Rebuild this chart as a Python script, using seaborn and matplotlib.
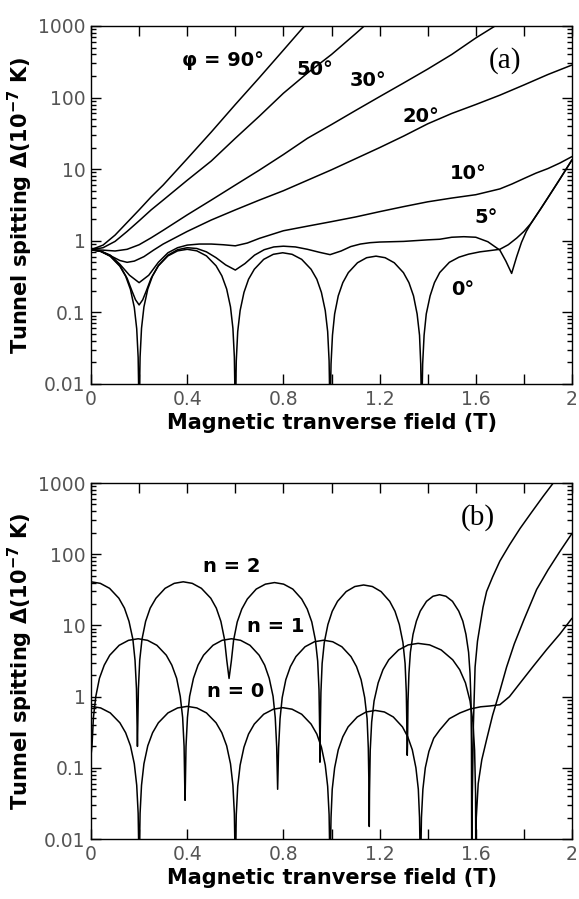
import numpy as np
import pandas as pd
import matplotlib
matplotlib.use("Agg")
import matplotlib.pyplot as plt
import seaborn as sns
from matplotlib.ticker import LogLocator, NullFormatter, FixedLocator, FixedFormatter

# ---- panel (a): tunnel splitting vs transverse field for several angles phi ----
a0_x = [0, 0.04, 0.08, 0.12, 0.144, 0.164, 0.18, 0.19, 0.196, 0.199, 0.2,
        0.201, 0.204, 0.21, 0.22, 0.236, 0.256, 0.28, 0.32, 0.36, 0.4,
        0.44, 0.48, 0.52, 0.544, 0.564, 0.58, 0.59, 0.596, 0.599, 0.6,
        0.601, 0.604, 0.61, 0.62, 0.636, 0.655, 0.679, 0.718, 0.758, 0.797,
        0.836, 0.876, 0.915, 0.939, 0.958, 0.974, 0.984, 0.99, 0.993, 0.994,
        0.995, 0.998, 1.004, 1.013, 1.028, 1.047, 1.07, 1.108, 1.146, 1.185,
        1.223, 1.261, 1.299, 1.322, 1.341, 1.356, 1.366, 1.371, 1.374, 1.375,
        1.376, 1.379, 1.385, 1.394, 1.41, 1.428, 1.45, 1.49, 1.53, 1.57, 1.617, 1.66, 1.7,
        1.735, 1.77, 1.8, 1.83, 1.87, 1.9, 1.95, 2.0]
a0_y = [0.75, 0.713, 0.607, 0.441, 0.32, 0.209, 0.117, 0.059, 0.0235, 0.0059, 0.001,
        0.006, 0.0238, 0.06, 0.119, 0.212, 0.324, 0.447, 0.615, 0.723, 0.76,
        0.723, 0.615, 0.447, 0.324, 0.212, 0.119, 0.06, 0.0238, 0.006, 0.001,
        0.0053, 0.021, 0.054, 0.106, 0.19, 0.29, 0.40, 0.55, 0.647, 0.68,
        0.647, 0.55, 0.40, 0.29, 0.19, 0.106, 0.054, 0.021, 0.0053, 0.001,
        0.0048, 0.019, 0.048, 0.095, 0.17, 0.26, 0.359, 0.493, 0.58, 0.61,
        0.58, 0.493, 0.359, 0.26, 0.17, 0.095, 0.048, 0.019, 0.0048, 0.001,
        0.005, 0.019, 0.048, 0.095, 0.17, 0.26, 0.36, 0.5, 0.59, 0.65, 0.70, 0.73, 0.76,
        0.88, 1.09, 1.35, 1.76, 2.8, 4.0, 7.3, 13.5]

a5_x = [0, 0.04, 0.08, 0.12, 0.15, 0.17, 0.185, 0.2, 0.215, 0.23, 0.25, 0.28, 0.32,
        0.36, 0.4, 0.44, 0.48, 0.52, 0.56, 0.6, 0.64, 0.68, 0.72, 0.76, 0.8, 0.85,
        0.9, 0.95, 0.994, 1.04, 1.08, 1.12, 1.16, 1.2, 1.3, 1.4, 1.45, 1.5, 1.55,
        1.6, 1.65, 1.7, 1.725, 1.749, 1.77, 1.79, 1.81, 1.83, 1.87, 1.9, 1.95, 2.0]
a5_y = [0.75, 0.715, 0.615, 0.45, 0.3, 0.2, 0.15, 0.127, 0.15, 0.2, 0.3, 0.45, 0.63,
        0.75, 0.8, 0.78, 0.7, 0.58, 0.46, 0.39, 0.48, 0.63, 0.75, 0.82, 0.84, 0.82,
        0.76, 0.69, 0.64, 0.72, 0.83, 0.9, 0.94, 0.96, 0.98, 1.03, 1.05, 1.12, 1.14,
        1.12, 0.97, 0.74, 0.52, 0.35, 0.6, 0.95, 1.35, 1.76, 2.8, 4.0, 7.3, 13.5]

a10_x = [0, 0.04, 0.08, 0.12, 0.16, 0.2, 0.24, 0.28, 0.32, 0.36, 0.4, 0.45, 0.5, 0.55,
         0.6, 0.65, 0.7, 0.8, 0.9, 1.0, 1.1, 1.2, 1.3, 1.4, 1.5, 1.6, 1.7, 1.75, 1.8,
         1.85, 1.9, 1.95, 2.0]
a10_y = [0.75, 0.72, 0.63, 0.47, 0.33, 0.26, 0.33, 0.5, 0.68, 0.8, 0.87, 0.9, 0.9, 0.88,
         0.85, 0.93, 1.08, 1.38, 1.6, 1.85, 2.15, 2.55, 3.0, 3.5, 3.95, 4.4, 5.3, 6.2, 7.4,
         8.8, 10.2, 12.2, 15]

a20_x = [0, 0.04, 0.08, 0.12, 0.15, 0.18, 0.22, 0.26, 0.3, 0.4, 0.5, 0.6, 0.7, 0.8, 0.9,
         1.0, 1.1, 1.2, 1.3, 1.4, 1.5, 1.6, 1.7, 1.8, 1.9, 2.0]
a20_y = [0.75, 0.71, 0.62, 0.53, 0.5, 0.52, 0.6, 0.74, 0.9, 1.35, 1.95, 2.7, 3.7, 5.0, 7.0,
         9.8, 14, 20, 29, 43, 60, 80, 108, 150, 210, 285]

a30_x = [0, 0.05, 0.1, 0.15, 0.2, 0.25, 0.3, 0.4, 0.5, 0.6, 0.7, 0.8, 0.9, 1.0, 1.1, 1.2,
         1.3, 1.4, 1.5, 1.6, 1.7]
a30_y = [0.75, 0.74, 0.72, 0.76, 0.88, 1.1, 1.4, 2.3, 3.7, 6.0, 9.7, 16, 27, 42, 66, 103,
         160, 250, 400, 680, 1100]

a50_x = [0, 0.05, 0.1, 0.15, 0.2, 0.25, 0.3, 0.4, 0.5, 0.6, 0.7, 0.8, 0.9, 1.0, 1.1, 1.15]
a50_y = [0.75, 0.8, 0.98, 1.35, 1.9, 2.7, 3.7, 7.0, 13, 27, 55, 115, 220, 400, 780, 1100]

a90_x = [0, 0.05, 0.1, 0.15, 0.2, 0.25, 0.3, 0.4, 0.5, 0.6, 0.7, 0.8, 0.9]
a90_y = [0.75, 0.87, 1.2, 1.8, 2.7, 4.1, 6.0, 14, 33, 80, 190, 460, 1120]

# ---- panel (b): n = 0, 1, 2 ----
b0_x = [0, 0.04, 0.08, 0.12, 0.144, 0.164, 0.18, 0.19, 0.196, 0.199, 0.2,
        0.201, 0.204, 0.21, 0.22, 0.236, 0.256, 0.28, 0.32, 0.36, 0.4,
        0.44, 0.48, 0.52, 0.544, 0.564, 0.58, 0.59, 0.596, 0.599, 0.6,
        0.601, 0.604, 0.61, 0.62, 0.636, 0.655, 0.679, 0.718, 0.758, 0.797,
        0.836, 0.876, 0.915, 0.939, 0.958, 0.974, 0.984, 0.99, 0.993, 0.994,
        0.995, 0.998, 1.003, 1.013, 1.028, 1.047, 1.069, 1.107, 1.144, 1.182,
        1.22, 1.257, 1.295, 1.317, 1.336, 1.351, 1.361, 1.366, 1.369, 1.37,
        1.371, 1.374, 1.38, 1.39, 1.405, 1.425, 1.45, 1.49, 1.534, 1.576, 1.62, 1.66, 1.7,
        1.74, 1.784, 1.84, 1.895, 1.95, 2.0]
b0_y = [0.73, 0.694, 0.591, 0.429, 0.311, 0.204, 0.114, 0.057, 0.023, 0.0058, 0.001,
        0.0058, 0.023, 0.057, 0.114, 0.204, 0.311, 0.429, 0.591, 0.694, 0.73,
        0.694, 0.591, 0.429, 0.311, 0.204, 0.114, 0.057, 0.023, 0.0058, 0.001,
        0.0055, 0.022, 0.055, 0.109, 0.195, 0.298, 0.412, 0.566, 0.666, 0.70,
        0.666, 0.566, 0.412, 0.298, 0.195, 0.109, 0.055, 0.022, 0.0055, 0.001,
        0.005, 0.02, 0.05, 0.1, 0.179, 0.273, 0.376, 0.518, 0.609, 0.64,
        0.609, 0.518, 0.376, 0.273, 0.179, 0.1, 0.05, 0.02, 0.005, 0.001,
        0.005, 0.02, 0.05, 0.1, 0.17, 0.26, 0.34, 0.49, 0.59, 0.67, 0.72, 0.74, 0.77,
        1.0, 1.55, 2.7, 4.6, 7.6, 12.6]

b1_x = [0, 0.004, 0.01, 0.02, 0.035, 0.055, 0.078, 0.117, 0.156, 0.196,
        0.235, 0.274, 0.313, 0.336, 0.356, 0.371, 0.381, 0.387, 0.39, 0.391,
        0.392, 0.395, 0.401, 0.41, 0.426, 0.445, 0.468, 0.507, 0.545, 0.584,
        0.622, 0.661, 0.699, 0.722, 0.741, 0.757, 0.766, 0.772, 0.776,
        0.78, 0.786, 0.795, 0.81, 0.829, 0.852, 0.89, 0.929, 0.967,
        1.005, 1.043, 1.081, 1.104, 1.123, 1.138, 1.148, 1.153, 1.156, 1.157,
        1.158, 1.161, 1.167, 1.177, 1.194, 1.214, 1.238, 1.279, 1.319, 1.36,
        1.408, 1.456, 1.504, 1.533, 1.557, 1.576, 1.588, 1.595, 1.599, 1.6,
        1.602, 1.61, 1.625, 1.645, 1.67, 1.7, 1.728, 1.76, 1.8, 1.853, 1.9, 1.95, 2.0]
b1_y = [0.15, 0.2, 0.51, 1.01, 1.81, 2.77, 3.82, 5.26, 6.18, 6.5,
        6.18, 5.26, 3.82, 2.77, 1.81, 1.01, 0.51, 0.2, 0.051, 0.035,
        0.051, 0.2, 0.51, 1.01, 1.81, 2.77, 3.82, 5.26, 6.18, 6.5,
        6.18, 5.26, 3.82, 2.77, 1.81, 1.01, 0.51, 0.2, 0.05,
        0.19, 0.49, 0.97, 1.73, 2.64, 3.65, 5.02, 5.9, 6.2,
        5.9, 5.02, 3.65, 2.64, 1.73, 0.97, 0.49, 0.19, 0.049, 0.015,
        0.044, 0.176, 0.44, 0.87, 1.56, 2.39, 3.29, 4.53, 5.33, 5.6,
        5.33, 4.53, 3.29, 2.39, 1.56, 0.87, 0.44, 0.176, 0.044, 0.005,
        0.02, 0.06, 0.13, 0.25, 0.55, 1.2, 2.6, 5.5, 12, 32, 60, 110, 196]

b2_x = [0, 0.0386, 0.0772, 0.1158, 0.139, 0.158, 0.174, 0.183, 0.189, 0.193,
        0.194, 0.197, 0.2025, 0.212, 0.227, 0.246, 0.27, 0.308, 0.346, 0.3835,
        0.421, 0.459, 0.498, 0.521, 0.54, 0.555, 0.5645, 0.574,
        0.5835, 0.593, 0.608, 0.627, 0.65, 0.687, 0.725, 0.763,
        0.801, 0.839, 0.876, 0.899, 0.918, 0.933, 0.9425, 0.948, 0.951, 0.952,
        0.953, 0.956, 0.961, 0.97, 0.985, 1.003, 1.025, 1.061, 1.097, 1.1335,
        1.17, 1.206, 1.242, 1.264, 1.282, 1.297, 1.306, 1.311, 1.314, 1.315,
        1.316, 1.318, 1.322, 1.328, 1.339, 1.353, 1.369, 1.395, 1.422, 1.449,
        1.476, 1.503, 1.529, 1.546, 1.559, 1.57, 1.576, 1.58, 1.582, 1.583,
        1.585, 1.59, 1.597, 1.607, 1.617, 1.63, 1.645, 1.67, 1.7, 1.74, 1.784,
        1.83, 1.88, 1.922, 1.95]
b2_y = [41, 39, 33.2, 24.1, 17.5, 11.4, 6.4, 3.24, 1.29, 0.2,
        0.32, 1.29, 3.24, 6.4, 11.4, 17.5, 24.1, 33.2, 39, 41,
        39, 33.2, 24.1, 17.5, 11.4, 6.4, 3.24, 1.8,
        3.16, 6.24, 11.2, 17.0, 23.5, 32.4, 38, 40,
        38, 32.4, 23.5, 17.0, 11.2, 6.24, 3.16, 1.25, 0.31, 0.12,
        0.29, 1.15, 2.92, 5.77, 10.3, 15.8, 21.8, 29.9, 35.2, 37,
        35.2, 29.9, 21.8, 15.8, 10.3, 5.77, 2.92, 1.15, 0.29, 0.15,
        0.21, 0.85, 2.13, 4.2, 7.5, 11.5, 15.9, 21.8, 25.7, 27,
        25.7, 21.8, 15.9, 11.5, 7.5, 4.2, 2.13, 0.85, 0.21, 0.005,
        0.03, 0.4, 2.6, 6, 9.7, 18, 30, 48, 80, 135, 230,
        380, 650, 1000, 1300]

# curve labels: text, x, y
a_labels = [("φ = 90°", 0.55, 330), ("50°", 0.93, 250), ("30°", 1.15, 175),
            ("20°", 1.37, 55), ("10°", 1.57, 8.8), ("5°", 1.645, 2.1), ("0°", 1.545, 0.21)]
b_labels = [("n = 2", 0.585, 68), ("n = 1", 0.768, 9.8), ("n = 0", 0.60, 1.17)]

x_ticks = [0, 0.2, 0.4, 0.6, 0.8, 1.0, 1.2, 1.4, 1.6, 1.8, 2.0]
x_ticklabels = ["0", "", "0.4", "", "0.8", "", "1.2", "", "1.6", "", "2"]
y_ticks = [0.01, 0.1, 1, 10, 100, 1000]
y_ticklabels = ["0.01", "0.1", "1", "10", "100", "1000"]

sns.set_style("ticks")
plt.rcParams["font.family"] = ["DejaVu Sans"]
plt.rcParams["text.color"] = "black"
plt.rcParams["axes.labelcolor"] = "black"

fig = plt.figure(figsize=(5.79, 8.99), dpi=100)
ax_a = fig.add_axes([0.1572, 0.5729, 0.8307, 0.3982])
ax_b = fig.add_axes([0.1572, 0.0667, 0.8307, 0.3960])


def draw_curve(ax, xs, ys):
    df = pd.DataFrame({"field": xs, "delta": ys})
    sns.lineplot(data=df, x="field", y="delta", ax=ax, sort=False, estimator=None,
                 color="black", linewidth=1.1)


def style_axes(ax, panel):
    ax.set_yscale("log")
    ax.set_xlim(0, 2)
    ax.set_ylim(0.01, 1000)
    ax.xaxis.set_major_locator(FixedLocator(x_ticks))
    ax.xaxis.set_major_formatter(FixedFormatter(x_ticklabels))
    ax.yaxis.set_major_locator(FixedLocator(y_ticks))
    ax.yaxis.set_major_formatter(FixedFormatter(y_ticklabels))
    ax.yaxis.set_minor_locator(LogLocator(base=10, subs=np.arange(2, 10), numticks=20))
    ax.yaxis.set_minor_formatter(NullFormatter())
    ax.tick_params(which="both", direction="in", top=True, right=True,
                   color="black", width=1.0)
    ax.tick_params(which="major", length=7, labelsize=13.5, labelcolor="#555555", pad=4)
    ax.tick_params(which="minor", length=3.5)
    for sp in ax.spines.values():
        sp.set_linewidth(1.0)
        sp.set_color("black")
    ax.set_xlabel("Magnetic tranverse field (T)", fontsize=15, fontweight="bold",
                  labelpad=3, color="black")
    ax.set_ylabel("Tunnel spitting Δ(10$\\mathbf{^{-7}}$ K)", fontsize=15,
                  fontweight="bold", labelpad=2, color="black")
    ax.text(1.72 if panel == "(a)" else 1.61, 330, panel, fontsize=21,
            family="Liberation Serif", ha="center", va="center", color="black")


for xs, ys in [(a0_x, a0_y), (a5_x, a5_y), (a10_x, a10_y), (a20_x, a20_y),
               (a30_x, a30_y), (a50_x, a50_y), (a90_x, a90_y)]:
    draw_curve(ax_a, xs, ys)
for xs, ys in [(b0_x, b0_y), (b1_x, b1_y), (b2_x, b2_y)]:
    draw_curve(ax_b, xs, ys)

style_axes(ax_a, "(a)")
style_axes(ax_b, "(b)")

for txt, x, y in a_labels:
    ax_a.text(x, y, txt, fontsize=14, fontweight="bold", ha="center", va="center",
              color="black")
for txt, x, y in b_labels:
    ax_b.text(x, y, txt, fontsize=14, fontweight="bold", ha="center", va="center",
              color="black")

fig.savefig("out.png", dpi=100)
